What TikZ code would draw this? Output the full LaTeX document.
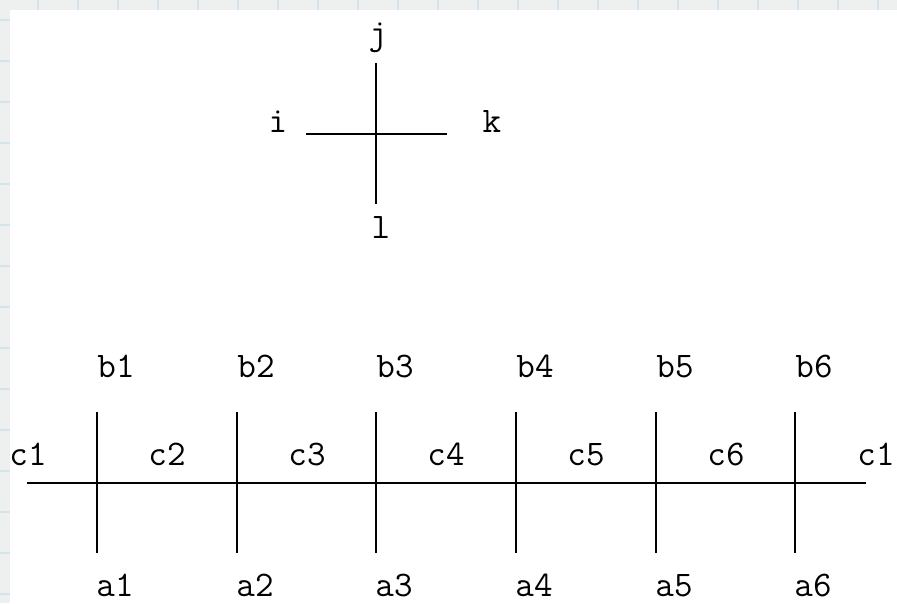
\documentclass[tikz,border=0pt]{standalone}
\definecolor{stripgray}{HTML}{EEF0F0}
\definecolor{gridblue}{HTML}{D3E4EC}
\begin{document}
\begin{tikzpicture}[x=1pt,y=-1pt,
  lbl/.style={font=\ttfamily\fontsize{36}{36}\selectfont, inner sep=0pt, anchor=base},
  ln/.style={line width=2pt, black}]
\useasboundingbox (0,0) rectangle (897,603);
% background strips
\fill[stripgray] (0,0) rectangle (897,603);
\foreach \x in {38,78,...,898} \draw[gridblue, line width=2pt] (\x,0) -- (\x,10);
\foreach \y in {20,61,...,603} \draw[gridblue, line width=2pt] (0,\y) -- (10,\y);
\fill[white] (10,10) rectangle (897,603);

% top cross
\coordinate (jt) at (376,63);
\coordinate (lb) at (376,204);
\coordinate (il) at (306,134);
\coordinate (kr) at (447,134);
\draw[ln] (jt) -- (lb);
\draw[ln] (il) -- (kr);
\node[lbl] (j) at (378,44) {j};
\node[lbl] (i) at (278,132) {i};
\node[lbl] (k) at (492,132) {k};
\node[lbl] (l) at (381,238) {l};

% bottom line
\coordinate (hl) at (27,483);
\coordinate (hr) at (866,483);
\draw[ln] (hl) -- (hr);
\foreach \n/\x in {1/97,2/237,3/376,4/516,5/656,6/795}{
  \coordinate (t\n) at (\x,412);
  \coordinate (u\n) at (\x,553);
  \draw[ln] (t\n) -- (u\n);
  \node[lbl] (b\n) at (\x+19,377) {b\n};
  \node[lbl] (a\n) at (\x+18,596) {a\n};
}
\node[lbl] (c1l) at (28,465) {c1};
\foreach \n/\x in {2/167,3/307,4/446,5/586,6/726}{
  \node[lbl] (c\n) at (\x,465) {c\n};
}
\node[lbl] (c1r) at (876,465) {c1};
\end{tikzpicture}
\end{document}
